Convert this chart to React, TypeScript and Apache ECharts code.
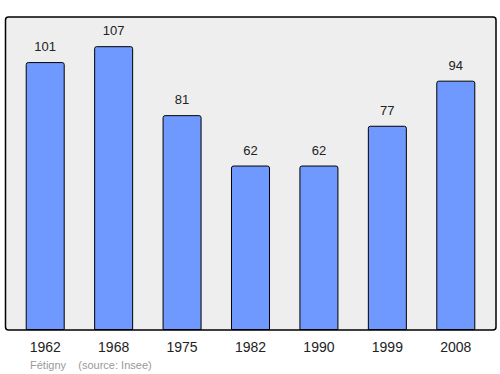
import React, { useEffect, useRef } from "react";
import * as echarts from "echarts";

const years = ["1962", "1968", "1975", "1982", "1990", "1999", "2008"];
const population = [101, 107, 81, 62, 62, 77, 94];
const footerName = "Fétigny";
const footerSource = "(source: Insee)";

export default function App() {
  const ref = useRef<HTMLDivElement>(null);
  useEffect(() => {
    if (!ref.current) return;
    const chart = echarts.init(ref.current, null, { renderer: "svg" });
    chart.setOption({
      animation: false,
      textStyle: { fontFamily: "Liberation Sans, Arial, sans-serif" },
      grid: { left: 11, right: 10, top: 17, height: 313, containLabel: false },
      graphic: [
        {
          type: "rect",
          z: -10,
          silent: true,
          shape: { x: 5.5, y: 17, width: 490.5, height: 313, r: 3 },
          style: { fill: "#eeeeee", stroke: "#000", lineWidth: 1.5 },
        },
        {
          type: "text",
          left: 30,
          top: 359,
          style: {
            text: footerName + "    " + footerSource,
            fill: "#999999",
            fontSize: 11,
            fontFamily: "Liberation Sans, Arial, sans-serif",
          },
        },
      ],
      xAxis: {
        type: "category",
        data: years,
        axisLine: { show: false },
        axisTick: { show: false },
        axisLabel: { color: "#222", fontSize: 14, margin: 10 },
      },
      yAxis: {
        type: "value",
        min: 0,
        max: 118,
        show: false,
        splitLine: { show: false },
      },
      series: [
        {
          type: "bar",
          data: population,
          barWidth: "57%",
          itemStyle: {
            color: "#6f99ff",
            borderColor: "#000",
            borderWidth: 1,
            borderRadius: [2, 2, 0, 0],
          },
          label: {
            show: true,
            position: "top",
            distance: 9,
            color: "#222",
            fontSize: 13,
          },
        },
      ],
    });
    return () => chart.dispose();
  }, []);
  return (
    <div
      ref={ref}
      style={{ position: "absolute", left: 0, top: 0, width: 500, height: 374 }}
    />
  );
}
